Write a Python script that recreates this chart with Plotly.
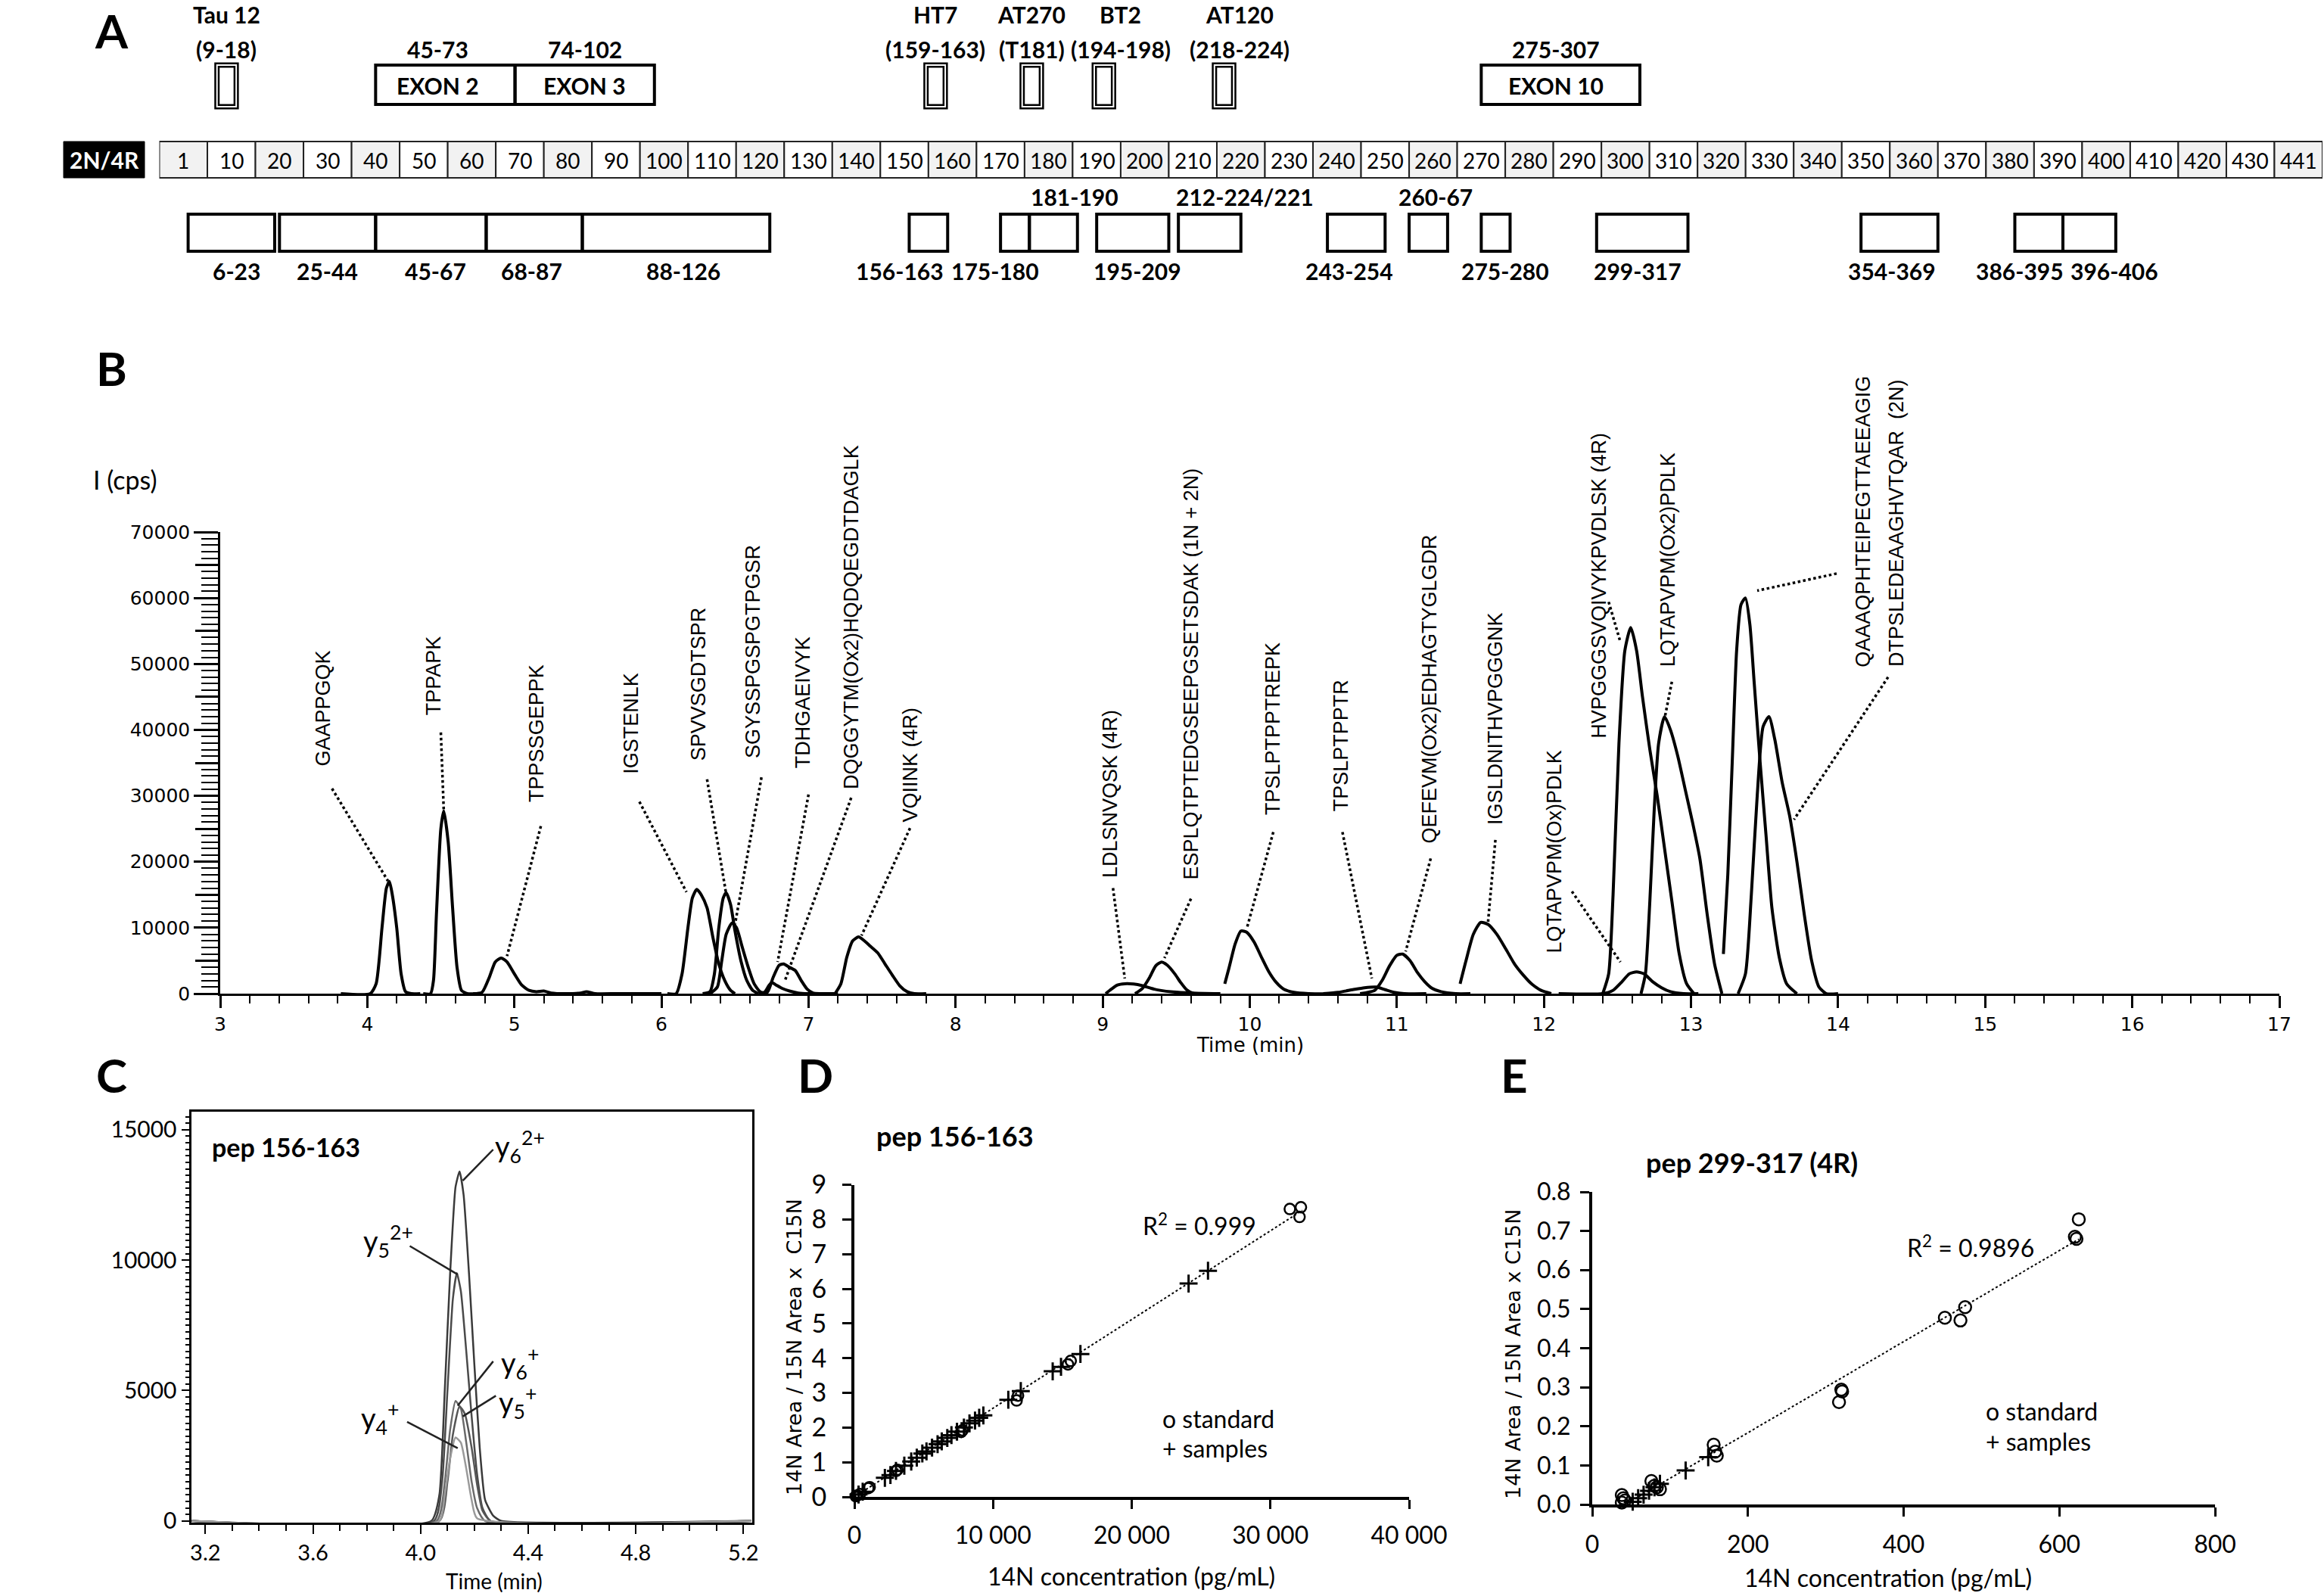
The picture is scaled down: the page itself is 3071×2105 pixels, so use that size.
import plotly.graph_objects as go

W, H = 3071, 2105

def fx(p):
    return p / W

def fy(p):
    return 1 - p / H

CAL = "Lato, Calibri, sans-serif"
ARIAL = "Liberation Sans, Arial, sans-serif"
WIDE = "DejaVu Sans, Verdana, sans-serif"

# ---------------- Panel A data ----------------
ruler_labels = ["1", "10", "20", "30", "40", "50", "60", "70", "80", "90", "100", "110", "120",
                "130", "140", "150", "160", "170", "180", "190", "200", "210", "220", "230", "240",
                "250", "260", "270", "280", "290", "300", "310", "320", "330", "340", "350", "360",
                "370", "380", "390", "400", "410", "420", "430", "441"]

epitope_names = ["Tau 12", "HT7", "AT270", "BT2", "AT120"]
epitope_texts = ["(9-18)", "(159-163)", "(T181)", "(194-198)", "(218-224)"]
epitope_start = [9, 159, 181, 194, 218]
epitope_end = [18, 163, 181, 198, 224]

exon_names = ["EXON 2", "EXON 3", "EXON 10"]
exon_texts = ["45-73", "74-102", "275-307"]
exon_start = [45, 74, 275]
exon_end = [73, 102, 307]

pep_labels = ["6-23", "25-44", "45-67", "68-87", "88-126", "156-163", "175-180", "181-190",
              "195-209", "212-224/221", "243-254", "260-67", "275-280", "299-317", "354-369",
              "386-395", "396-406"]
pep_start = [6, 25, 45, 68, 88, 156, 175, 181, 195, 212, 243, 260, 275, 299, 354, 386, 396]
pep_end = [23, 44, 67, 87, 126, 163, 180, 190, 209, 224, 254, 267, 280, 317, 369, 395, 406]
pep_label_above = [False, False, False, False, False, False, False, True, False, True, False,
                   True, False, False, False, False, False]

# layout-only label nudges (in residue units)
epitope_label_shift = [0, 0, 0, 3.5, 3.3]
exon_label_shift = [-1.5, 0, -1]
pep_label_shift = [1, 0, 1, -0.5, 1.5, -6.0, -4.2, 4.4, 1, 7.4, -1.5, 1.5, 2, -1, -1.5, -3.9, 5.2]

# ---------------- Panel B data (time in min, intensity in cps) ----------------
t_GAAPPGQK = [3.82, 4.02, 4.06, 4.10, 4.13, 4.15, 4.17, 4.20, 4.23, 4.26, 4.30, 4.36]
i_GAAPPGQK = [0, 0, 1500, 10000, 16000, 17000, 15000, 10000, 3000, 300, 0, 0]
t_TPPAPK = [4.38, 4.43, 4.45, 4.47, 4.50, 4.52, 4.55, 4.58, 4.61, 4.64, 4.68, 4.74]
i_TPPAPK = [0, 0, 2000, 12000, 25000, 27700, 23000, 13000, 4000, 500, 0, 0]
t_TPPSSGEPPK = [4.72, 4.78, 4.83, 4.87, 4.91, 4.95, 5.00, 5.05, 5.10, 5.15, 5.20, 5.25, 5.35,
                5.45, 5.49, 5.55, 5.70, 6.00]
i_TPPSSGEPPK = [0, 200, 2500, 4800, 5400, 4800, 3000, 1300, 500, 300, 400, 100, 0, 100, 300,
                0, 0, 0]
t_IGSTENLK = [6.04, 6.10, 6.14, 6.18, 6.21, 6.24, 6.27, 6.31, 6.35, 6.39, 6.43, 6.47, 6.50]
i_IGSTENLK = [0, 0, 3000, 10000, 14500, 15800, 15000, 13000, 8500, 4500, 2000, 500, 0]
t_SPVVSGDTSPR = [6.28, 6.33, 6.36, 6.39, 6.42, 6.44, 6.47, 6.50, 6.54, 6.58, 6.62, 6.66]
i_SPVVSGDTSPR = [0, 300, 3000, 10000, 14500, 15300, 13500, 9500, 5000, 2000, 500, 0]
t_SGYSSPGSPGTPGSR = [6.33, 6.38, 6.41, 6.44, 6.48, 6.51, 6.55, 6.59, 6.63, 6.67, 6.72]
i_SGYSSPGSPGTPGSR = [0, 1000, 5000, 9000, 10700, 10000, 7000, 4000, 1500, 300, 0]
t_TDHGAEIVYK = [6.68, 6.72, 6.76, 6.80, 6.83, 6.87, 6.91, 6.95, 6.99, 7.03, 7.08, 7.20]
i_TDHGAEIVYK = [0, 200, 2500, 4300, 4500, 4000, 3500, 2000, 700, 100, 0, 0]
t_DQGGYTM = [6.66, 6.70, 6.73, 6.75, 6.78, 6.82, 6.87, 6.93, 7.00, 7.15]
i_DQGGYTM = [0, 200, 1200, 1700, 1300, 800, 400, 100, 0, 0]
t_VQIINK = [7.18, 7.22, 7.26, 7.30, 7.34, 7.38, 7.42, 7.47, 7.52, 7.57, 7.62, 7.67, 7.72, 7.80]
i_VQIINK = [0, 1500, 5500, 8000, 8600, 8000, 7200, 6200, 4500, 2800, 1200, 300, 0, 0]
t_LDLSNVQSK = [9.02, 9.06, 9.10, 9.15, 9.21, 9.27, 9.33, 9.39, 9.48, 9.60, 9.80]
i_LDLSNVQSK = [0, 700, 1300, 1500, 1450, 1200, 800, 500, 250, 100, 0]
t_ESPLQTPTED = [9.22, 9.27, 9.32, 9.36, 9.40, 9.44, 9.49, 9.53, 9.57, 9.61, 9.65]
i_ESPLQTPTED = [0, 800, 2500, 4200, 4800, 4300, 3000, 1700, 600, 100, 0]
t_TPSLPTPPTREPK = [9.83, 9.86, 9.90, 9.94, 9.98, 10.03, 10.08, 10.13, 10.18, 10.23, 10.30,
                   10.40, 10.60]
i_TPSLPTPPTREPK = [1500, 4000, 7500, 9500, 9300, 7800, 5500, 3300, 1700, 700, 200, 0, 0]
t_TPSLPTPPTR = [10.50, 10.60, 10.70, 10.78, 10.86, 10.92, 10.98, 11.05, 11.20]
i_TPSLPTPPTR = [0, 200, 600, 900, 1000, 600, 200, 0, 0]
t_QEFEVM = [10.75, 10.85, 10.90, 10.95, 11.00, 11.04, 11.09, 11.14, 11.19, 11.24, 11.30, 11.40,
            11.50]
i_QEFEVM = [0, 500, 2000, 4200, 5800, 6000, 5000, 3200, 1800, 800, 300, 0, 0]
t_IGSLDNITHVPGGGNK = [11.43, 11.47, 11.52, 11.57, 11.62, 11.68, 11.74, 11.80, 11.86, 11.92,
                      11.98, 12.05]
i_IGSLDNITHVPGGGNK = [1500, 5000, 9000, 10800, 10500, 9000, 6800, 4500, 2800, 1400, 500, 0]
t_LQTAPVPM_Ox = [12.10, 12.40, 12.47, 12.53, 12.58, 12.63, 12.68, 12.74, 12.80, 12.86, 12.95,
                 13.05]
i_LQTAPVPM_Ox = [0, 0, 500, 1800, 3000, 3300, 3000, 1800, 900, 300, 0, 0]
t_HVPGGGSVQIVYK = [12.40, 12.44, 12.47, 12.51, 12.55, 12.59, 12.63, 12.67, 12.72, 12.77, 12.82,
                   12.87, 12.92, 12.97, 13.02]
i_HVPGGGSVQIVYK = [0, 3000, 15000, 38000, 52000, 55500, 52000, 45000, 37000, 30000, 22000,
                   14000, 6000, 1500, 0]
t_LQTAPVPM_Ox2 = [12.66, 12.69, 12.72, 12.75, 12.78, 12.82, 12.86, 12.91, 12.96, 13.01, 13.06,
                  13.11, 13.16, 13.21]
i_LQTAPVPM_Ox2 = [0, 3000, 14000, 28000, 38000, 42000, 40000, 36000, 31000, 26000, 20500,
                  12000, 4500, 0]
t_QAAAQPHTEIPEG = [13.22, 13.25, 13.28, 13.31, 13.34, 13.37, 13.40, 13.43, 13.47, 13.51, 13.55,
                   13.60, 13.65, 13.72]
i_QAAAQPHTEIPEG = [6000, 18000, 35000, 52000, 59000, 60000, 56000, 47000, 35000, 24000, 13000,
                   5500, 1500, 0]
t_DTPSLEDEAAG = [13.32, 13.37, 13.41, 13.45, 13.49, 13.53, 13.57, 13.62, 13.67, 13.72, 13.77,
                 13.82, 13.87, 13.92, 14.00]
i_DTPSLEDEAAG = [0, 3000, 15000, 30000, 40500, 42000, 38500, 32000, 27000, 20000, 12000, 5000,
                 1000, 0, 0]

b_series = [
    (t_GAAPPGQK, i_GAAPPGQK), (t_TPPAPK, i_TPPAPK), (t_TPPSSGEPPK, i_TPPSSGEPPK),
    (t_IGSTENLK, i_IGSTENLK), (t_SPVVSGDTSPR, i_SPVVSGDTSPR),
    (t_SGYSSPGSPGTPGSR, i_SGYSSPGSPGTPGSR), (t_TDHGAEIVYK, i_TDHGAEIVYK),
    (t_DQGGYTM, i_DQGGYTM), (t_VQIINK, i_VQIINK), (t_LDLSNVQSK, i_LDLSNVQSK),
    (t_ESPLQTPTED, i_ESPLQTPTED), (t_TPSLPTPPTREPK, i_TPSLPTPPTREPK),
    (t_TPSLPTPPTR, i_TPSLPTPPTR), (t_QEFEVM, i_QEFEVM),
    (t_IGSLDNITHVPGGGNK, i_IGSLDNITHVPGGGNK), (t_LQTAPVPM_Ox, i_LQTAPVPM_Ox),
    (t_HVPGGGSVQIVYK, i_HVPGGGSVQIVYK), (t_LQTAPVPM_Ox2, i_LQTAPVPM_Ox2),
    (t_QAAAQPHTEIPEG, i_QAAAQPHTEIPEG), (t_DTPSLEDEAAG, i_DTPSLEDEAAG),
]

b_labels = ["GAAPPGQK", "TPPAPK", "TPPSSGEPPK", "IGSTENLK", "SPVVSGDTSPR", "SGYSSPGSPGTPGSR",
            "TDHGAEIVYK", "DQGGYTM(Ox2)HQDQEGDTDAGLK", "VQIINK (4R)", "LDLSNVQSK (4R)",
            "ESPLQTPTEDGSEEPGSETSDAK (1N + 2N)", "TPSLPTPPTREPK", "TPSLPTPPTR",
            "QEFEVM(Ox2)EDHAGTYGLGDR", "IGSLDNITHVPGGGNK", "LQTAPVPM(Ox)PDLK",
            "HVPGGGSVQIVYKPVDLSK (4R)", "LQTAPVPM(Ox2)PDLK", "QAAAQPHTEIPEGTTAEEAGIG",
            "DTPSLEDEAAGHVTQAR  (2N)"]
# label placement (time of text centre, intensity of text start) -- layout, not data
b_label_pos = [(3.70, 34200), (4.45, 42000), (5.15, 28800), (5.79, 33100), (6.25, 35100),
               (6.62, 35400), (6.96, 33900), (7.29, 30800), (7.69, 25700), (9.05, 17300),
               (9.60, 17000), (10.16, 26800), (10.62, 27400), (11.22, 22500), (11.67, 25300),
               (12.07, 5900), (12.37, 38500), (12.84, 49300), (14.17, 49300), (14.40, 49300)]
b_leaders = [((3.76, 31100), (4.14, 17100)), ((4.50, 39600), (4.52, 27700)),
             ((5.18, 25400), (4.95, 5700)), ((5.85, 29100), (6.17, 15400)),
             ((6.31, 32500), (6.44, 15100)), ((6.68, 32800), (6.50, 10500)),
             ((7.00, 30200), (6.79, 4800)), ((7.29, 29700), (6.84, 2000)),
             ((7.69, 25100), (7.36, 8800)), ((9.07, 16000), (9.15, 2300)),
             ((9.60, 14400), (9.42, 5400)), ((10.16, 24500), (9.98, 9900)),
             ((10.63, 24500), (10.83, 2300)), ((11.23, 20500), (11.06, 6400)),
             ((11.67, 23300), (11.62, 10900)), ((12.19, 15500), (12.52, 4800)),
             ((12.44, 59400), (12.52, 53300)), ((12.87, 47300), (12.82, 41700)),
             ((13.99, 63700), (13.45, 61100)), ((14.34, 48000), (13.70, 26400))]

b_ytick_major = [0, 10000, 20000, 30000, 40000, 50000, 60000, 70000]
b_ytick_major_text = ["0", "10000", "20000", "30000", "40000", "50000", "60000", "70000"]
b_ytick_half = [5000, 15000, 25000, 35000, 45000, 55000, 65000]

# ---------------- Panel C data ----------------
c_ion_names = ["y<sub>6</sub><sup>2+</sup>", "y<sub>5</sub><sup>2+</sup>",
               "y<sub>6</sub><sup>+</sup>", "y<sub>5</sub><sup>+</sup>", "y<sub>4</sub><sup>+</sup>"]
c_y62_t = [3.15, 4.04, 4.07, 4.09, 4.11, 4.13, 4.145, 4.16, 4.18, 4.20, 4.22, 4.24, 4.27, 4.30, 5.23]
c_y62_i = [0, 0, 1000, 5000, 9500, 12800, 13400, 12500, 9500, 6000, 2800, 800, 200, 0, 0]
c_y52_t = [3.15, 4.05, 4.08, 4.10, 4.12, 4.135, 4.15, 4.17, 4.19, 4.21, 4.23, 4.26, 5.23]
c_y52_i = [0, 0, 1500, 5000, 8500, 9500, 8800, 6500, 4000, 1800, 500, 0, 0]
c_y6_t = [3.15, 4.06, 4.09, 4.11, 4.13, 4.15, 4.17, 4.19, 4.21, 4.24, 5.23]
c_y6_i = [0, 0, 1500, 3500, 4600, 4300, 3000, 1500, 500, 0, 0]
c_y5_t = [3.15, 4.07, 4.10, 4.12, 4.145, 4.165, 4.19, 4.21, 4.23, 4.26, 5.23]
c_y5_i = [0, 0, 1500, 3300, 4400, 4100, 2800, 1400, 400, 0, 0]
c_y4_t = [3.15, 4.07, 4.09, 4.11, 4.13, 4.15, 4.17, 4.19, 4.21, 5.23]
c_y4_i = [0, 0, 1000, 2400, 3200, 3000, 2000, 800, 100, 0]
c_colors = ["#3a3a3a", "#4a4a4a", "#6a6a6a", "#555555", "#9a9a9a"]
c_label_pos = [(4.37, 14350), (3.88, 10740), (4.37, 6050), (4.36, 4560), (3.85, 3940)]
c_leaders = [((4.27, 14240), (4.157, 13050)), ((3.96, 10540), (4.138, 9450)),
             ((4.27, 6120), (4.138, 4420)), ((4.28, 4800), (4.157, 4010)),
             ((3.95, 3800), (4.138, 2790))]

# ---------------- Panel D data ----------------
d_std_x = [100, 200, 400, 1000, 1100, 3000, 3100, 7700, 7800, 11700, 11800, 15400, 15600,
           31400, 32200, 32100]
d_std_y = [0.02, 0.04, 0.08, 0.25, 0.28, 0.75, 0.78, 1.87, 1.92, 2.78, 2.92, 3.82, 3.92,
           8.30, 8.35, 8.07]
d_smp_x = [300, 600, 2200, 2600, 3000, 3600, 4100, 4500, 4900, 5200, 5600, 6000, 6300, 6700,
           7000, 7400, 7900, 8300, 8700, 9000, 9300, 11100, 12000, 14300, 14900, 16300, 24100,
           25500]
d_smp_y = [0.07, 0.15, 0.55, 0.63, 0.75, 0.90, 1.02, 1.13, 1.25, 1.31, 1.42, 1.52, 1.60, 1.70,
           1.78, 1.88, 2.00, 2.12, 2.20, 2.28, 2.35, 2.80, 3.05, 3.62, 3.75, 4.12, 6.15, 6.52]
d_fit_x = [0, 32300]
d_fit_y = [0, 8.26]

# ---------------- Panel E data ----------------
e_std_x = [38, 40, 38, 42, 76, 80, 83, 87, 156, 158, 160, 317, 320, 321, 453, 473, 479, 620,
           622, 625]
e_std_y = [0.024, 0.016, 0.005, 0.010, 0.060, 0.048, 0.044, 0.039, 0.153, 0.135, 0.125, 0.262,
           0.294, 0.289, 0.478, 0.471, 0.505, 0.685, 0.680, 0.730]
e_smp_x = [52, 59, 66, 73, 80, 87, 120, 149]
e_smp_y = [0.007, 0.016, 0.025, 0.035, 0.044, 0.053, 0.087, 0.121]
e_fit_x = [45, 625]
e_fit_y = [0.003, 0.679]

# =====================================================================
fig = go.Figure()
shapes = []
annotations = []


def ann(text, x, y, xref="paper", yref="paper", size=30, family=CAL, bold=False,
        color="black", angle=0, xanchor="center", yanchor="middle"):
    if bold:
        text = "<b>" + text + "</b>"
    annotations.append(dict(text=text, x=x, y=y, xref=xref, yref=yref, showarrow=False,
                            font=dict(size=size, family=family, color=color),
                            textangle=angle, xanchor=xanchor, yanchor=yanchor))


# ---------- Panel A (x = residue, y = pixel rows of the diagram) ----------
ROW1, ROW2 = 19, 65
for k, lab in enumerate(ruler_labels):
    shapes.append(dict(type="rect", xref="x", yref="y", x0=10 * k, x1=10 * k + 10, y0=187,
                       y1=235, line=dict(color="#222", width=2),
                       fillcolor="#f2f2f2" if k % 2 == 0 else "white", layer="below"))
    ann(lab, 10 * k + 5, 212, "x", "y", size=28, family=CAL)

shapes.append(dict(type="rect", xref="paper", yref="paper", x0=fx(84), x1=fx(191), y0=fy(235),
                   y1=fy(187), line=dict(color="black", width=1), fillcolor="black"))
ann("2N/4R", fx(137.5), fy(211), size=30, bold=True, color="white")

for name, txt, s, e, sh in zip(epitope_names, epitope_texts, epitope_start, epitope_end,
                               epitope_label_shift):
    c = (s + e + 1) / 2
    shapes.append(dict(type="rect", xref="x", yref="y", x0=c - 2, x1=c + 2, y0=86, y1=141,
                       line=dict(color="black", width=7)))
    shapes.append(dict(type="rect", xref="x", yref="y", x0=c - 2, x1=c + 2, y0=86, y1=141,
                       line=dict(color="white", width=2)))
    ann(name, c + sh, ROW1, "x", "y", size=30, bold=True)
    ann(txt, c + sh, ROW2, "x", "y", size=30, bold=True)

for name, txt, s, e, sh in zip(exon_names, exon_texts, exon_start, exon_end, exon_label_shift):
    shapes.append(dict(type="rect", xref="x", yref="y", x0=s, x1=e + 1, y0=86, y1=138,
                       line=dict(color="black", width=4)))
    ann(txt, (s + e + 1) / 2 + sh, ROW2, "x", "y", size=30, bold=True)
    ann(name, (s + e + 1) / 2 + sh, 113, "x", "y", size=30, bold=True)

for lab, s, e, above, sh in zip(pep_labels, pep_start, pep_end, pep_label_above,
                                pep_label_shift):
    shapes.append(dict(type="rect", xref="x", yref="y", x0=s, x1=e + 1, y0=283, y1=332,
                       line=dict(color="black", width=4)))
    ann(lab, (s + e + 1) / 2 + sh, 260 if above else 358, "x", "y", size=30, bold=True)

# ---------- Panel B ----------
for (t, i) in b_series:
    fig.add_trace(go.Scatter(x=t, y=i, xaxis="x2", yaxis="y2", mode="lines",
                             line=dict(color="black", width=4, shape="spline", smoothing=0.6),
                             hoverinfo="skip", cliponaxis=False, showlegend=False))
# invisible anchor so the overlay axis carrying the 5000-step ticks is drawn
fig.add_trace(go.Scatter(x=[None], y=[None], xaxis="x2", yaxis="y6", mode="lines",
                         hoverinfo="skip", showlegend=False))

for lab, (lx, ly) in zip(b_labels, b_label_pos):
    ann(lab, lx, ly, "x2", "y2", size=27, family=ARIAL, angle=-90, xanchor="center",
        yanchor="bottom")
for (p0, p1) in b_leaders:
    shapes.append(dict(type="line", xref="x2", yref="y2", x0=p0[0], y0=p0[1], x1=p1[0],
                       y1=p1[1], line=dict(color="black", width=3.5, dash="dot")))

ann("I (cps)", fx(165), fy(633), size=34, family=CAL)
ann("Time (min)", fx(1652), fy(1381), size=26, family=WIDE)

# ---------- Panel C ----------
for (t, i), col in zip([(c_y62_t, c_y62_i), (c_y52_t, c_y52_i), (c_y6_t, c_y6_i),
                        (c_y5_t, c_y5_i), (c_y4_t, c_y4_i)], c_colors):
    fig.add_trace(go.Scatter(x=t, y=i, xaxis="x3", yaxis="y3", mode="lines",
                             line=dict(color=col, width=2.5, shape="spline", smoothing=0.5),
                             hoverinfo="skip", showlegend=False))
for lab, (lx, ly) in zip(c_ion_names, c_label_pos):
    ann(lab, lx, ly, "x3", "y3", size=38, family=CAL, xanchor="center")
for (p0, p1) in c_leaders:
    shapes.append(dict(type="line", xref="x3", yref="y3", x0=p0[0], y0=p0[1], x1=p1[0],
                       y1=p1[1], line=dict(color="#222", width=2.5)))
ann("pep 156-163", fx(278), fy(1515), size=34, family=CAL, bold=True, xanchor="left")
ann("Time (min)", fx(653), fy(2089), size=28, family=CAL)

# ---------- Panel D ----------
fig.add_trace(go.Scatter(x=d_fit_x, y=d_fit_y, xaxis="x4", yaxis="y4", mode="lines",
                         line=dict(color="black", width=2, dash="dot"), hoverinfo="skip",
                         showlegend=False))
fig.add_trace(go.Scatter(x=d_std_x, y=d_std_y, xaxis="x4", yaxis="y4", mode="markers",
                         marker=dict(symbol="circle-open", size=14, color="black",
                                     line=dict(width=2.5, color="black")),
                         cliponaxis=False, hoverinfo="skip", showlegend=False))
fig.add_trace(go.Scatter(x=d_smp_x, y=d_smp_y, xaxis="x4", yaxis="y4", mode="markers",
                         marker=dict(symbol="cross-thin-open", size=17, color="black",
                                     line=dict(width=3, color="black")),
                         cliponaxis=False, hoverinfo="skip", showlegend=False))
ann("pep 156-163", fx(1262), fy(1501), size=36, family=CAL, bold=True)
ann("R<sup>2</sup> = 0.999", fx(1585), fy(1618), size=32, family=CAL)
ann("o standard", fx(1534), fy(1874), size=32, family=CAL, xanchor="left")
ann("+ samples", fx(1534), fy(1913), size=32, family=CAL, xanchor="left")
ann("14N concentration (pg/mL)", fx(1495), fy(2082), size=32, family=CAL)
ann("14N Area / 15N Area x  C15N", fx(1049), fy(1780), size=27, family=WIDE, angle=-90)

# ---------- Panel E ----------
fig.add_trace(go.Scatter(x=e_fit_x, y=e_fit_y, xaxis="x5", yaxis="y5", mode="lines",
                         line=dict(color="black", width=2, dash="dot"), hoverinfo="skip",
                         showlegend=False))
fig.add_trace(go.Scatter(x=e_std_x, y=e_std_y, xaxis="x5", yaxis="y5", mode="markers",
                         marker=dict(symbol="circle-open", size=16, color="black",
                                     line=dict(width=2.5, color="black")),
                         cliponaxis=False, hoverinfo="skip", showlegend=False))
fig.add_trace(go.Scatter(x=e_smp_x, y=e_smp_y, xaxis="x5", yaxis="y5", mode="markers",
                         marker=dict(symbol="cross-thin-open", size=17, color="black",
                                     line=dict(width=3, color="black")),
                         cliponaxis=False, hoverinfo="skip", showlegend=False))
ann("pep 299-317 (4R)", fx(2315), fy(1536), size=36, family=CAL, bold=True)
ann("R<sup>2</sup> = 0.9896", fx(2604), fy(1647), size=32, family=CAL)
ann("o standard", fx(2622), fy(1864), size=32, family=CAL, xanchor="left")
ann("+ samples", fx(2622), fy(1904), size=32, family=CAL, xanchor="left")
ann("14N concentration (pg/mL)", fx(2495), fy(2084), size=32, family=CAL)
ann("14N Area / 15N Area x C15N", fx(2000), fy(1790), size=27, family=WIDE, angle=-90)

# ---------- Panel letters ----------
ann("A", fx(147), fy(1), size=62, family=CAL, bold=True, yanchor="top")
for letter, (px, py) in zip(["B", "C", "D", "E"],
                            [(147, 486), (147, 1420), (1077, 1420), (2001, 1420)]):
    ann(letter, fx(px), fy(py), size=62, family=CAL, bold=True)

# ---------- Axes ----------
hidden = dict(visible=False, showgrid=False, zeroline=False, automargin=False,
              showticklabels=False, ticks="")
tick_cal = dict(size=30, family=CAL, color="black")
base = dict(showgrid=False, zeroline=False, automargin=False, linecolor="black",
            tickcolor="black", showline=True)

fig.update_layout(
    template="none",
    width=W, height=H, margin=dict(l=0, r=0, t=0, b=0, pad=0, autoexpand=False),
    paper_bgcolor="white", plot_bgcolor="rgba(0,0,0,0)", showlegend=False,
    separators=". ",
    xaxis=dict(domain=[fx(210.5), fx(3069)], range=[0, 450], anchor="y", **hidden),
    yaxis=dict(domain=[fy(400), 1], range=[400, 0], anchor="x", **hidden),
    xaxis2=dict(domain=[fx(291), fx(3012)], range=[3, 17], anchor="y2", linewidth=2.5,
                ticks="outside", ticklen=16, tickwidth=2.5, tick0=3, dtick=1,
                tickformat="d", tickfont=dict(size=25, family=WIDE, color="black"),
                minor=dict(ticks="outside", dtick=0.2, tick0=3, ticklen=10, tickwidth=2,
                           tickcolor="black", showgrid=False), **base),
    yaxis2=dict(domain=[fy(1313), fy(703)], range=[0, 70000], anchor="x2", linewidth=2.5,
                ticks="outside", ticklen=32, tickwidth=2.5,
                tickmode="array", tickvals=b_ytick_major, ticktext=b_ytick_major_text,
                tickfont=dict(size=25, family=WIDE, color="black"),
                minor=dict(ticks="outside", dtick=1000, tick0=0, ticklen=22, tickwidth=2,
                           tickcolor="black", showgrid=False), **base),
    yaxis6=dict(domain=[fy(1313), fy(703)], range=[0, 70000], anchor="x2", overlaying="y2",
                showgrid=False, zeroline=False, automargin=False, showline=False,
                ticks="outside", ticklen=32, tickwidth=2.5, tickcolor="black",
                tickmode="array", tickvals=b_ytick_half, showticklabels=False),
    xaxis3=dict(domain=[fx(252.5), fx(994.4)], range=[3.147, 5.234], anchor="y3",
                mirror=True, linewidth=3,
                ticks="outside", ticklen=12, tickwidth=2, tickmode="array",
                tickvals=[3.2, 3.6, 4.0, 4.4, 4.8, 5.2],
                ticktext=["3.2", "3.6", "4.0", "4.4", "4.8", "5.2"],
                tickfont=dict(size=29, family=CAL, color="black"),
                minor=dict(ticks="outside", dtick=0.1, tick0=3.2, ticklen=8, tickwidth=2,
                           tickcolor="black", showgrid=False), **base),
    yaxis3=dict(domain=[fy(2012), fy(1469.4)], range=[-64, 15679], anchor="x3",
                mirror=True, linewidth=3,
                ticks="outside", ticklen=10, tickwidth=2, tickmode="array",
                tickvals=[0, 5000, 10000, 15000], ticktext=["0", "5000", "10000", "15000"],
                tickfont=tick_cal,
                minor=dict(ticks="outside", dtick=250, tick0=0, ticklen=5, tickwidth=1.5,
                           tickcolor="black", showgrid=False), **base),
    xaxis4=dict(domain=[fx(1129), fx(1862)], range=[0, 40000], anchor="y4", linewidth=4,
                ticks="outside", ticklen=12, tickwidth=3, dtick=10000,
                tickformat=",d", tickfont=dict(size=32, family=CAL, color="black"),
                ticklabelstandoff=8, **base),
    yaxis4=dict(domain=[fy(1978), fy(1565.5)], range=[0, 9], anchor="x4", linewidth=4,
                ticks="outside", ticklen=12, tickwidth=3, dtick=1,
                tickfont=dict(size=34, family=CAL, color="black"), ticklabelstandoff=14,
                **base),
    xaxis5=dict(domain=[fx(2104), fx(2927)], range=[0, 800], anchor="y5", linewidth=4,
                ticks="outside", ticklen=12, tickwidth=3, dtick=200,
                tickformat="d", tickfont=dict(size=32, family=CAL, color="black"),
                ticklabelstandoff=10, **base),
    yaxis5=dict(domain=[fy(1988), fy(1575)], range=[0, 0.8], anchor="x5", linewidth=4,
                ticks="outside", ticklen=12, tickwidth=3, dtick=0.1,
                tickformat=".1f", tickfont=dict(size=32, family=CAL, color="black"),
                ticklabelstandoff=6, **base),
    shapes=shapes,
    annotations=annotations,
)

fig.write_html("out.html",
               config={"displayModeBar": False},
               post_script="document.body.style.margin='0px';"
                           "document.body.style.overflow='hidden';")
